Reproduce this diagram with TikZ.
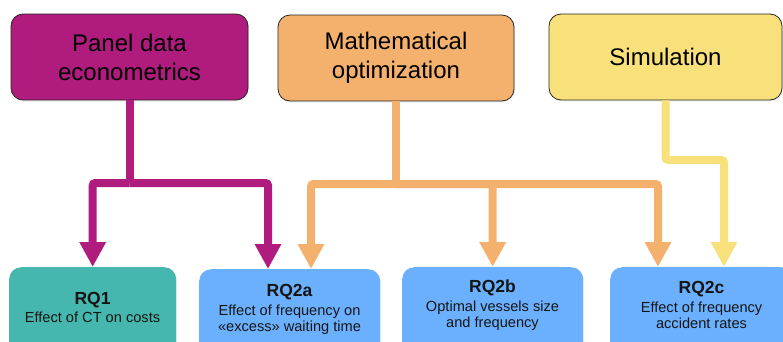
\documentclass[tikz,border=0pt]{standalone}
\usepackage{fontspec}
\setmainfont{Liberation Sans}
\usetikzlibrary{arrows.meta,shadows}
\definecolor{magc}{HTML}{B01B7E}
\definecolor{orac}{HTML}{F4B16D}
\definecolor{yelc}{HTML}{F8E07A}
\definecolor{teac}{HTML}{45B7AE}
\definecolor{bluc}{HTML}{6BB0FE}
\definecolor{txtc}{HTML}{151515}
\begin{document}
\begin{tikzpicture}[x=1pt,y=-1pt,
  topbox/.style={draw=black!85, line width=0.8pt, rounded corners=12pt, minimum height=86pt,
    inner sep=0pt, align=center, text=black,
    font=\fontsize{24}{29}\selectfont,
    drop shadow={opacity=0.12, shadow xshift=1pt, shadow yshift=-1.5pt}},
  botbox/.style={rounded corners=12pt, minimum height=90pt, inner sep=0pt, anchor=north west,
    drop shadow={opacity=0.12, shadow xshift=1pt, shadow yshift=-1.5pt}},
  rqtext/.style={anchor=base, inner sep=0pt, align=center, text=txtc,
    font=\fontsize{14.6}{16}\selectfont},
  conn/.style={line width=8pt, rounded corners=2.5pt},
  tip/.style={-{Triangle[width=25pt,length=25pt]}}]
\begin{scope}
\clip (0,0) rectangle (783,341);
% top boxes
\node[topbox, fill=magc, minimum width=237pt] (panel) at (129.5,57) {Panel data\\econometrics};
\node[topbox, fill=orac, minimum width=236pt] (math) at (396,58) {Mathematical\\optimization};
\node[topbox, fill=yelc, minimum width=233pt] (sim) at (665.5,57) {Simulation};
% bottom boxes
\node[botbox, fill=teac, minimum width=167pt] (rq1) at (9,267) {};
\node[botbox, fill=bluc, minimum width=181pt] (rq2a) at (199,269) {};
\node[botbox, fill=bluc, minimum width=181pt] (rq2b) at (402,267) {};
\node[botbox, fill=bluc, minimum width=183pt] (rq2c) at (610,267) {};
% texts (base anchor = baseline of last line)
\node[rqtext] (t1) at (92.5,322) {{\fontsize{17.5}{18}\selectfont\bfseries RQ1}\\[2pt]Effect of CT on costs};
\node[rqtext] (t2a) at (289.5,331.7) {{\fontsize{17.5}{18}\selectfont\bfseries RQ2a}\\[3.5pt]Effect of frequency on\\«excess» waiting time};
\node[rqtext] (t2b) at (492.5,327.5) {{\fontsize{17.5}{18}\selectfont\bfseries RQ2b}\\[2.7pt]Optimal vessels size\\and frequency};
\node[rqtext] (t2c) at (701.5,328.5) {{\fontsize{17.5}{18}\selectfont\bfseries RQ2c}\\[2.7pt]Effect of frequency\\accident rates};
% magenta connectors
\coordinate (mj) at (129.5,183);
\coordinate (ma) at (268,269);
\draw[conn, magc] (panel.south) -- (mj);
\draw[conn, magc, tip] (mj) -| (rq1.north);
\draw[conn, magc, tip] (mj) -| (ma);
% orange connectors
\coordinate (oj) at (396,184);
\coordinate (oa) at (311,269);
\coordinate (oc) at (658,267);
\draw[conn, orac] (math.south) -- (oj);
\draw[conn, orac, tip] (oj) -| (oa);
\draw[conn, orac, tip] (oj) -| (rq2b.north);
\draw[conn, orac, tip] (oj) -| (oc);
% yellow connector
\coordinate (yj) at (665.5,160);
\coordinate (yc) at (724,267);
\draw[conn, yelc, tip] (sim.south) -- (yj) -| (yc);
\end{scope}
\pgfresetboundingbox
\useasboundingbox (0,0) rectangle (783,341);
\end{tikzpicture}
\end{document}
